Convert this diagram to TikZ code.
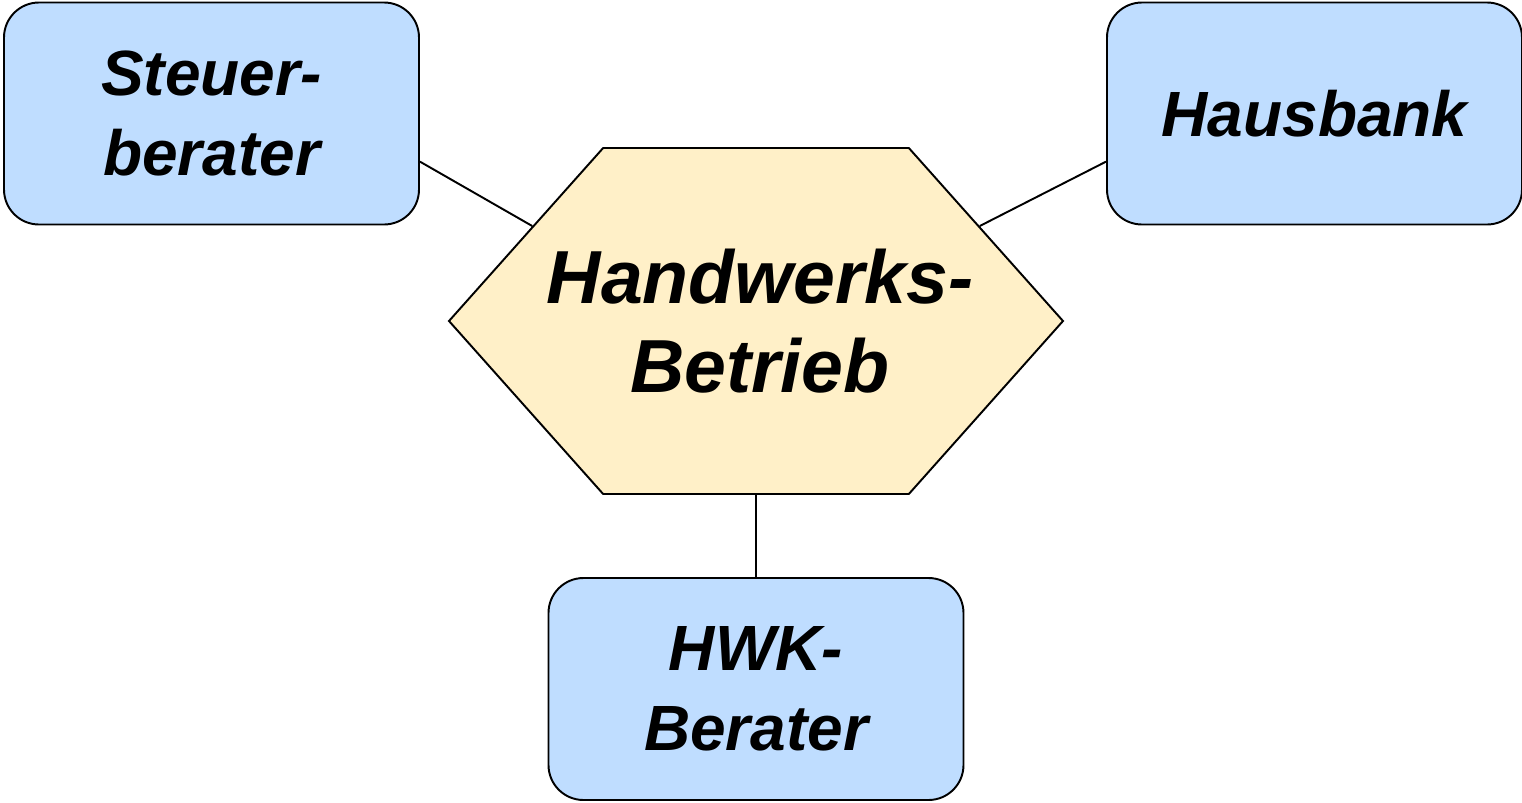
\documentclass[tikz,border=0pt]{standalone}
\usepackage{fontspec}
\setmainfont{Liberation Sans}
\usepackage{tikz}
\usetikzlibrary{shapes,arrows,positioning}

\definecolor{partnerblue}{RGB}{191,221,255}
\definecolor{betriebgelb}{RGB}{255,240,200}

\begin{document}
\begin{tikzpicture}[
    partner/.style={draw,line width=1.1pt,fill=partnerblue,rounded corners=0.7cm,
        minimum width=8.3cm,minimum height=4.44cm,align=center,inner sep=0pt,
        font=\fontsize{36.4}{45.4}\selectfont\bfseries\itshape},
    betrieb/.style={draw,line width=1.1pt,fill=betriebgelb,signal,signal to=east and west,
        signal pointer angle=96.6,minimum width=12.28cm,minimum height=6.92cm,inner sep=0pt},
    betriebtext/.style={align=center,inner sep=0pt,
        font=\fontsize{42.8}{51}\selectfont\bfseries\itshape},
    link/.style={line width=1.1pt}]
    \useasboundingbox (0,0) rectangle (30.44,-16.04);

    % Betrieb in der Mitte, Partner aussen herum
    \node[betrieb] (betrieb) at (15.12,-6.42) {};
    \node[betriebtext] (betriebname) at ([xshift=0.08cm]betrieb.center) {Handwerks-\\Betrieb};
    \node[partner] (steuer) at (4.23,-2.27) {Steuer-\\berater};
    \node[partner] (bank) at (26.29,-2.27) {Hausbank};
    \node[partner] (hwk) at (15.12,-13.78) {HWK-\\Berater};

    \draw[link] (steuer.-13) -- (betrieb.157);
    \draw[link] (bank.193) -- (betrieb.23);
    \draw[link] (betrieb.south) -- (hwk.north);
\end{tikzpicture}
\end{document}
